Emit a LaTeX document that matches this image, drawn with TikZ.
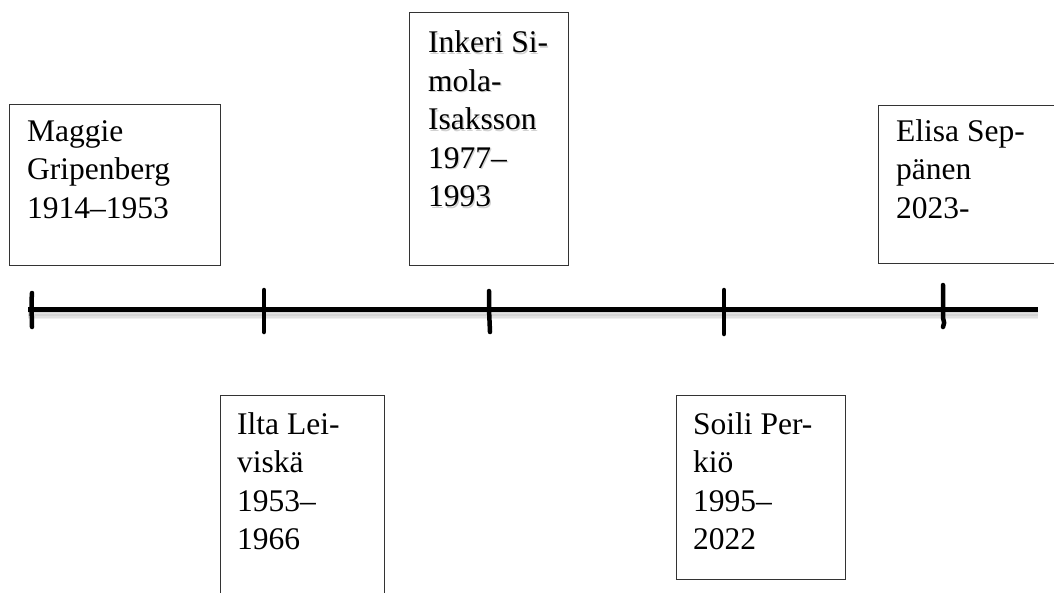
\documentclass[tikz,border=0pt]{standalone}
\usepackage{fontspec}
\setmainfont{Liberation Serif}
\begin{document}
\begin{tikzpicture}[x=1pt,y=-1pt,
  box/.style={draw=black!80, line width=1.1pt},
  entry/.style={anchor=north west, inner sep=0pt, align=left,
    font=\fontsize{31.5}{38.5}\selectfont},
  axis/.style={line width=5pt, black},
  axisshadow/.style={line width=4pt, black, opacity=0.06},
  tick/.style={line width=4.5pt, black, line cap=round}]
\useasboundingbox (0,0) rectangle (1054,592);
\clip (0,0) rectangle (1054,592);

% frames of the entries
\node[box, anchor=north west, minimum width=211pt, minimum height=161pt, inner sep=0pt] (bMaggie) at (9,104) {};
\node[box, anchor=north west, minimum width=159pt, minimum height=253pt, inner sep=0pt] (bInkeri) at (409,12) {};
\node[box, anchor=north west, minimum width=200pt, minimum height=158pt, inner sep=0pt] (bElisa) at (878,105) {};
\node[box, anchor=north west, minimum width=164pt, minimum height=220pt, inner sep=0pt] (bIlta) at (220,395) {};
\node[box, anchor=north west, minimum width=169pt, minimum height=184pt, inner sep=0pt] (bSoili) at (676,395) {};

% names and terms
\node[entry] (tMaggie) at (27,112) {\rule{0pt}{29pt}Maggie\\Gripenberg\\1914--1953};
\node[entry, text=black!18] (tInkeriShade) at (429.2,24.8) {\rule{0pt}{29pt}Inkeri Si-\\mola-\\Isaksson\\1977--\\1993};
\node[entry] (tInkeri) at (428,23.5) {\rule{0pt}{29pt}Inkeri Si-\\mola-\\Isaksson\\1977--\\1993};
\node[entry] (tElisa) at (896,112) {\rule{0pt}{29pt}Elisa Sep-\\pänen\\2023-};
\node[entry] (tIlta) at (237,405) {\rule{0pt}{29pt}Ilta Lei-\\viskä\\1953--\\1966};
\node[entry] (tSoili) at (693,405) {\rule{0pt}{29pt}Soili Per-\\kiö\\1995--\\2022};

% time axis with its soft shadow
\coordinate (aL) at (28,309);
\coordinate (aR) at (1038,309);
\foreach \d in {2,3.5,5,6.5,8} {
  \draw[axisshadow] ([yshift=-\d pt]aL) -- ([yshift=-\d pt]aR);
}
\draw[axis] (aL) -- (aR);

% hand-drawn ticks
\draw[tick] (32,293) .. controls (31,305) and (32,318) .. (32,327);
\draw[tick] (264,290) -- (264,332);
\draw[tick] (489,291) -- (489,309) -- (490,332);
\draw[tick] (724,290) -- (724,334);
\draw[tick] (943,285) -- (943,318) .. controls (944,322) and (945,324) .. (943,327);
\end{tikzpicture}
\end{document}
